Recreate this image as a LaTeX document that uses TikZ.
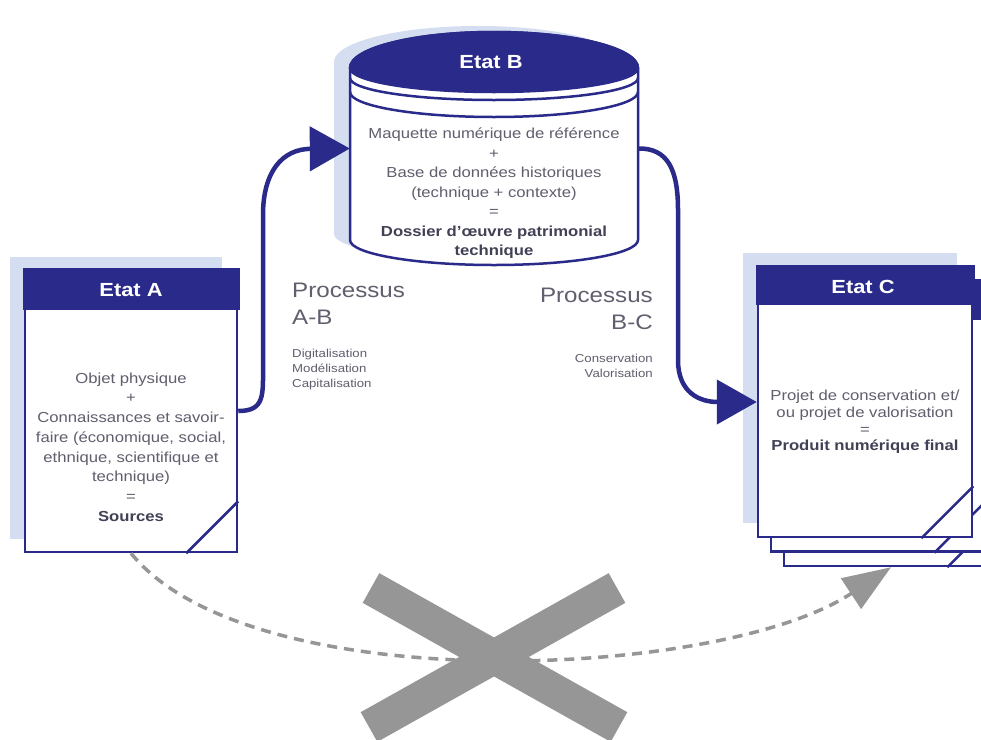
\documentclass[tikz,border=0pt]{standalone}
\usepackage{fontspec}
\setmainfont{Liberation Sans}[FakeStretch=1.15]
\usetikzlibrary{arrows.meta,calc}
\definecolor{dkblue}{RGB}{42,42,138}
\definecolor{shadowblue}{RGB}{212,222,240}
\definecolor{txtgray}{RGB}{95,95,110}
\definecolor{txtdark}{RGB}{65,65,85}
\definecolor{xgray}{RGB}{150,150,150}
\begin{document}
\begin{tikzpicture}[x=1pt,y=-1pt,
  page/.style={draw=dkblue, fill=white, line width=2.5pt, inner sep=0pt},
  hdr/.style={fill=dkblue, draw=dkblue, line width=2.5pt},
  fold/.style={draw=dkblue, line width=2.5pt},
  hdrtext/.style={text=white, inner sep=0pt, font=\fontsize{19}{22}\selectfont\bfseries},
  body/.style={text=txtgray, align=center, inner sep=0pt},
  bigproc/.style={text=txtgray, inner sep=0pt, font=\fontsize{21}{27}\selectfont},
  smallproc/.style={text=txtgray, inner sep=0pt, font=\fontsize{11.5}{15}\selectfont},
  flow/.style={draw=dkblue, line width=4.5pt, -{Triangle[length=40pt,width=44pt]}},
  ghost/.style={draw=xgray, line width=3.5pt, dash pattern=on 10pt off 7pt, -{Triangle[length=48pt,width=36pt]}}
]
\useasboundingbox (0,0) rectangle (981,739);
\clip (0,0) rectangle (981,739);
\fill[white] (0,0) rectangle (981,739);

% shadows
\fill[shadowblue] (10,257) rectangle (222,539);
\fill[shadowblue] (743,253) rectangle (957,523);
\begin{scope}[shift={(-16,-6)}]
  \fill[shadowblue] (350,68) arc[start angle=180,end angle=360,x radius=144,y radius=36]
    -- (638,240) arc[start angle=0,end angle=180,x radius=144,y radius=25] -- cycle;
\end{scope}

% Etat A
\node[page, minimum width=212pt, minimum height=282pt] (A) at (131,411) {};
\path[hdr] (A.north west) rectangle ($(A.north east)+(0,40)$);
\draw[fold] ($(A.south east)+(-52,0)$) -- ($(A.south east)+(0,-52)$);
\node[hdrtext] (Ah) at (131,290) {Etat A};
\node[body, font=\fontsize{14.5}{19.7}\selectfont] (At) at (131,447)
  {Objet physique\\+\\Connaissances et savoir-\\faire (économique, social,\\ethnique, scientifique et\\technique)\\=\\\textbf{\color{txtdark}Sources}};

% Etat B (cylinder)
\node[minimum width=288pt, minimum height=233pt, inner sep=0pt] (B) at (494,148.5) {};
\filldraw[fill=white, draw=dkblue, line width=2.5pt] (350,68) arc[start angle=180,end angle=360,x radius=144,y radius=36]
    -- (638,240) arc[start angle=0,end angle=180,x radius=144,y radius=25] -- cycle;
\draw[fold] (350,92) arc[start angle=180,end angle=0,x radius=144,y radius=25];
\draw[fold] (350,78) arc[start angle=180,end angle=0,x radius=144,y radius=22];
\filldraw[hdr] (350,68) arc[start angle=180,end angle=360,x radius=144,y radius=36]
    arc[start angle=0,end angle=180,x radius=144,y radius=24] -- cycle;
\node[hdrtext] (Bh) at (491,62) {Etat B};
\node[body, font=\fontsize{14.5}{19.5}\selectfont] (Bt) at (494,193.5)
  {Maquette numérique de référence\\+\\Base de données historiques\\(technique + contexte)\\=\\\textbf{\color{txtdark}Dossier d’œuvre patrimonial}\\\textbf{\color{txtdark}technique}};

% Etat C (stack of pages)
\node[page, minimum width=214pt, minimum height=270pt] (C3) at (891,431) {};
\path[hdr] (C3.north west) rectangle ($(C3.north east)+(0,38)$);
\draw[fold] ($(C3.south east)+(-52,0)$) -- ($(C3.south east)+(0,-52)$);
\node[page, minimum width=214pt, minimum height=270pt] (C2) at (878,416.5) {};
\path[hdr] (C2.north west) rectangle ($(C2.north east)+(0,38)$);
\draw[fold] ($(C2.south east)+(-52,0)$) -- ($(C2.south east)+(0,-52)$);
\node[page, minimum width=214pt, minimum height=270pt] (C) at (865,402) {};
\path[hdr] (C.north west) rectangle ($(C.north east)+(0,38)$);
\draw[fold] ($(C.south east)+(-52,0)$) -- ($(C.south east)+(0,-52)$);
\node[hdrtext] (Ch) at (863,287) {Etat C};
\node[body, font=\fontsize{14.5}{16.7}\selectfont] (Ct) at (865,422)
  {Projet de conservation et/\\ou projet de valorisation\\=\\\textbf{\color{txtdark}Produit numérique final}};

% process labels
\node[bigproc, anchor=north west, align=left] (PAB) at (292,282.5) {Processus\\A-B};
\node[smallproc, anchor=north west, align=left] (PABs) at (292,348.5) {Digitalisation\\Modélisation\\Capitalisation};
\node[bigproc, anchor=north east, align=right] (PBC) at (653,287.5) {Processus\\B-C};
\node[smallproc, anchor=north east, align=right] (PBCs) at (653,354) {Conservation\\Valorisation};

% flows
\draw[flow] (A.east) .. controls (265,411) and (263,395) .. (263,365) -- (263,215)
  .. controls (263,172) and (282,149) .. (B.west);
\draw[flow] (B.east) .. controls (668,148) and (678,170) .. (678,210) -- (678,360)
  .. controls (678,393) and (700,402) .. (C.west);

% direct (crossed out) path
\draw[ghost] (A.south) .. controls (250,700) and (720,680) .. (C3.south);
\draw[xgray, line width=34pt] (371,588) -- (619,727);
\draw[xgray, line width=34pt] (617,588) -- (369,727);
\end{tikzpicture}
\end{document}
